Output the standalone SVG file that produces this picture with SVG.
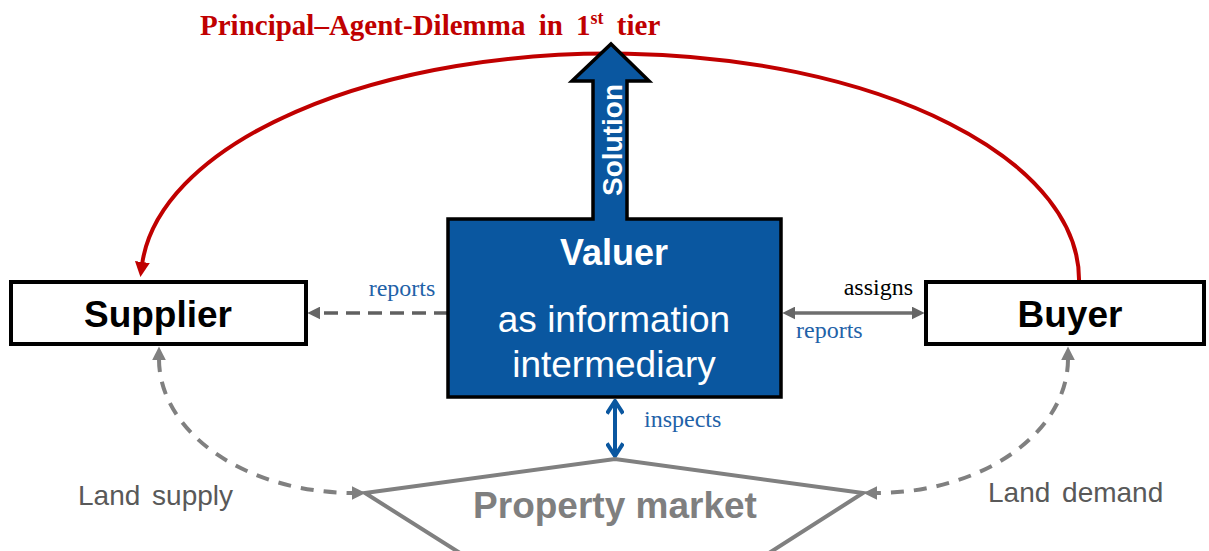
<svg xmlns="http://www.w3.org/2000/svg" width="1209" height="551" viewBox="0 0 1209 551">
<style>
.box{fill:#fff;stroke:#000;stroke-width:4}
.nodeTxt{font-family:"Liberation Sans",Arial,sans-serif;font-weight:bold;font-size:37px;fill:#000;text-anchor:middle}
.white{font-family:"Liberation Sans",Arial,sans-serif;fill:#fff;text-anchor:middle}
.lbl{font-family:"Liberation Serif","Times New Roman",serif;font-size:24px}
.blue{fill:#1F62A8}
.gray{font-family:"Liberation Sans",Arial,sans-serif;font-size:28px;fill:#595959}
</style>
<defs>
<marker id="redHead" markerUnits="userSpaceOnUse" markerWidth="15" markerHeight="15" viewBox="0 0 10 10" refX="2" refY="5" orient="auto">
<path d="M0,0 L10,5 L0,10 z" fill="#C00000"/>
</marker>
<marker id="grayHead" markerUnits="userSpaceOnUse" markerWidth="14" markerHeight="14" viewBox="0 0 10 10" refX="1" refY="5" orient="auto-start-reverse">
<path d="M0,0 L10,5 L0,10 z" fill="#808080"/>
</marker>
<marker id="darkHead" markerUnits="userSpaceOnUse" markerWidth="13" markerHeight="13" viewBox="0 0 10 10" refX="1" refY="5" orient="auto-start-reverse">
<path d="M0,0 L10,5 L0,10 z" fill="#666"/>
</marker>
<marker id="blueHead" markerUnits="userSpaceOnUse" markerWidth="18" markerHeight="18" viewBox="0 0 10 10" refX="9" refY="5" orient="auto-start-reverse">
<path d="M2,0.5 L9,5 L2,9.5" fill="none" stroke="#0A57A0" stroke-width="2.2"/>
</marker>
</defs>

<text x="200" y="35" font-family="Liberation Serif,'Times New Roman',serif" font-weight="bold" font-size="29" fill="#C00000" word-spacing="6">Principal–Agent-Dilemma in 1<tspan font-size="18" dy="-11">st</tspan><tspan dy="11"> tier</tspan></text>

<g id="connectors">
<path d="M1079 282 A469 226 0 0 0 142 265" fill="none" stroke="#C00000" stroke-width="4" marker-end="url(#redHead)"/>
<line x1="448" y1="313" x2="319" y2="313" stroke="#606060" stroke-width="3.5" stroke-dasharray="14 8" marker-end="url(#darkHead)"/>
<line x1="794" y1="313" x2="913" y2="313" stroke="#6E6E6E" stroke-width="3.5" marker-start="url(#darkHead)" marker-end="url(#darkHead)"/>
<line x1="615" y1="401" x2="615" y2="456" stroke="#0A57A0" stroke-width="4" marker-start="url(#blueHead)" marker-end="url(#blueHead)"/>
<path d="M159 359 A195 134 0 0 0 353 493" fill="none" stroke="#808080" stroke-width="4" stroke-dasharray="13 10" marker-start="url(#grayHead)" marker-end="url(#grayHead)"/>
<path d="M1068 359 A192 134 0 0 1 876 493" fill="none" stroke="#808080" stroke-width="4" stroke-dasharray="13 10" marker-start="url(#grayHead)" marker-end="url(#grayHead)"/>
<text class="lbl blue" x="402" y="296" text-anchor="middle">reports</text>
<text class="lbl" x="913" y="295" text-anchor="end" fill="#000">assigns</text>
<text class="lbl blue" x="796" y="338">reports</text>
<text class="lbl blue" x="644" y="427">inspects</text>
</g>

<g id="valuer">
<path d="M448 219 L593 219 L593 81 L572 81 L611 44 L649 81 L627 81 L627 219 L781 219 L781 397 L448 397 Z" fill="#0A57A0" stroke="#000" stroke-width="3.5" stroke-linejoin="miter"/>
<text class="white" transform="translate(622,140) rotate(-90)" font-weight="bold" font-size="28">Solution</text>
<text class="white" x="614" y="265" font-weight="bold" font-size="36">Valuer</text>
<text class="white" x="614" y="332" font-size="37">as information</text>
<text class="white" x="614" y="377" font-size="37">intermediary</text>
</g>

<g id="supplier">
<rect class="box" x="11" y="282" width="295" height="62"/>
<text class="nodeTxt" x="158" y="327">Supplier</text>
</g>

<g id="buyer">
<rect class="box" x="926" y="282" width="278" height="62"/>
<text class="nodeTxt" x="1070" y="327">Buyer</text>
</g>

<g id="market">
<polygon points="365,493 615,459 863,493 769,553 460,553" fill="#fff" stroke="#808080" stroke-width="4" stroke-linejoin="miter"/>
<text x="615" y="518" font-family="Liberation Sans,Arial,sans-serif" font-weight="bold" font-size="37" fill="#7F7F7F" text-anchor="middle">Property market</text>
</g>

<text class="gray" x="78" y="505" word-spacing="4">Land supply</text>
<text class="gray" x="988" y="502" word-spacing="4">Land demand</text>
</svg>
